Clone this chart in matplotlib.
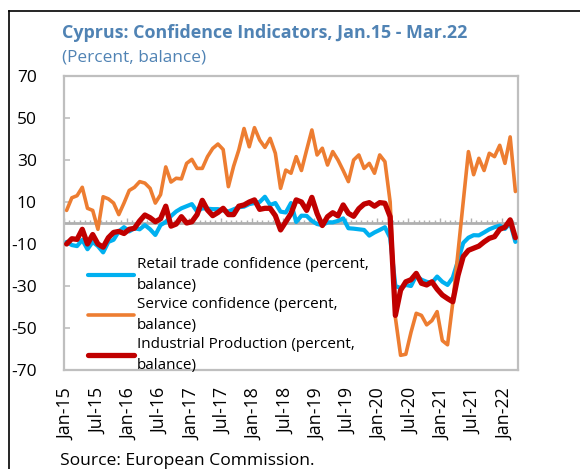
import numpy as np
import matplotlib
matplotlib.use("Agg")
import matplotlib.pyplot as plt
from matplotlib.lines import Line2D

plt.rcParams['font.family'] = ['Open Sans', 'DejaVu Sans']

# ---- data (Jan-15 .. Mar-22, monthly) ----
years = list(range(2015, 2023))
months = ['Jan', 'Feb', 'Mar', 'Apr', 'May', 'Jun', 'Jul', 'Aug', 'Sep', 'Oct', 'Nov', 'Dec']
dates = [f"{m}-{str(y)[2:]}" for y in years for m in months][:87]

retail = [-9, -10.5, -11, -8, -12.5, -9, -11, -14, -9, -8, -4, -2,
          -4, -2.5, -3, -1, -3, -5.7, -1, 0.5, 3.3, 5.5, 7, 8,
          9, 5.5, 7, 6.8, 6.6, 6.6, 6, 5.5, 6.5, 7.5, 7.8, 9,
          9.5, 10, 12.5, 8.6, 9.5, 5.4, 5, 9.5, 0.5, 3.5, 3.4, 1,
          -0.5, -1, 0.3, 0.3, 1, 2.2, -2.5, -2.7, -3, -3.3, -6, -4.5,
          -3.3, -2, -7, -30, -31, -29.5, -30, -25, -27, -28, -28.5, -25.5,
          -28, -29.5, -26, -18, -9.5, -7, -5.8, -5.9, -4.5, -3, -2, -1.2,
          -2.8, 0, -9]

service = [6, 12, 13, 17, 7, 6, -3, 12.5, 11.5, 9.5, 4, 9.5,
           15.5, 17, 19.7, 19, 16.5, 9.5, 13.5, 26.7, 19.5, 21.3, 21, 28.4,
           30.3, 26, 26, 31.6, 35.5, 37.6, 35, 17.3, 27, 34.8, 45, 36.3,
           45.4, 39.5, 36, 40.3, 33.2, 16.5, 25.2, 23.7, 31.6, 25, 34.8, 44.3,
           32.4, 35.6, 27.6, 34, 30, 25, 19.7, 30, 32.4, 26, 28.4, 23.7,
           32.4, 29.2, 10, -45, -63, -62.5, -52, -43, -44, -48.5, -46.5, -42.2,
           -56, -58, -38, -14, 10, 34, 23, 30.8, 25, 33.2, 31.6, 37,
           28.4, 41, 15]

industry = [-10, -7.5, -7.8, -3, -10, -5.5, -10, -11.5, -7, -4.5, -4, -5,
            -3, -2.5, 1, 3.8, 2.5, 0.6, 2, 8, -1.5, -0.5, 3, 0,
            0.6, 4, 10.8, 6.2, 3.5, 5, 7, 4, 4, 8, 8.6, 10,
            11, 6.5, 7, 7, 3.5, -3.3, 0.6, 4.5, 11, 10, 6, 12.2,
            4.5, -1.2, 3, 4.9, 3.4, 8.6, 4.6, 3.2, 6.8, 9, 9.7, 8,
            9.7, 9.4, 3, -44, -32, -28, -27, -24, -28.7, -29.5, -28, -31.5,
            -34.3, -36, -37.5, -25, -16, -13, -12, -11, -9, -7.3, -6.5, -3,
            -2, 1.5, -7]

labels = ["Retail trade confidence (percent,\nbalance)",
          "Service confidence (percent,\nbalance)",
          "Industrial Production (percent,\nbalance)"]
colors = ['#00B0F0', '#ED7D31', '#C00000']
yticks = [70, 50, 30, 10, -10, -30, -50, -70]

# ---- figure ----
fig = plt.figure(figsize=(5.80, 4.69), dpi=100)
ax = fig.add_axes([64 / 580, 1 - 370 / 469, 454 / 580, 294 / 469])

x = np.arange(len(dates))
ax.plot(x, retail, color=colors[0], lw=3.0, label=labels[0], zorder=3, solid_capstyle='round')
ax.plot(x, service, color=colors[1], lw=2.6, label=labels[1], zorder=4, solid_capstyle='round')
ax.plot(x, industry, color=colors[2], lw=3.8, label=labels[2], zorder=5, solid_capstyle='round')

ax.set_xlim(-0.5, len(dates) - 0.5)
ax.set_ylim(-70, 70)

grey = '#BFBFBF'
# zero line with category tick marks
ax.axhline(0, color='#B0B0B0', lw=2.0, zorder=2)
bounds = np.arange(-0.5, len(dates), 1.0)
minor = [b for k, b in enumerate(bounds) if k % 6 != 0]
major = [b for k, b in enumerate(bounds) if k % 6 == 0]
ax.vlines(minor, 0, 1.4, color='#B0B0B0', lw=1.0, zorder=2)
ax.vlines(major, 0, 2.6, color='#B0B0B0', lw=1.0, zorder=2)

ax.set_yticks(yticks)
ax.set_yticklabels([str(v) for v in yticks], fontsize=12.5)
ax.tick_params(axis='y', direction='in', length=4, width=1.2, color=grey, pad=19.5)
ax.set_xticks(x[::6])
ax.set_xticklabels(dates[::6], rotation=90, fontsize=12.8)
ax.tick_params(axis='x', length=0, pad=13)
for s in ax.spines.values():
    s.set_color(grey)
    s.set_linewidth(1.6)

leg = ax.legend(loc='upper left', bbox_to_anchor=(0.04, 0.405), frameon=False,
                fontsize=11, handlelength=3.0, handletextpad=0.2,
                labelspacing=0.3, borderaxespad=0)
for t in leg.get_texts():
    t.set_linespacing(1.5)

# titles
title_c = '#5083B4'
fig.text(62 / 580, 1 - 33 / 469, "Cyprus: Confidence Indicators, Jan.15 - Mar.22",
         fontsize=12.9, fontweight='bold', color=title_c, va='center', ha='left')
fig.text(62 / 580, 1 - 58 / 469, "(Percent, balance)",
         fontsize=12.4, color=title_c, va='center', ha='left')
fig.text(60 / 580, 1 - 461 / 469, "Source: European Commission.",
         fontsize=12.6, color='black', va='center', ha='left')

# outer frame (left and top edges)
fig.add_artist(Line2D([9 / 580, 9 / 580], [0, 1 - 11 / 469], color='black', lw=1.2,
                      transform=fig.transFigure))
fig.add_artist(Line2D([9 / 580, 1], [1 - 11 / 469, 1 - 11 / 469], color='black', lw=1.2,
                      transform=fig.transFigure))

fig.savefig('out.png', dpi=100)
